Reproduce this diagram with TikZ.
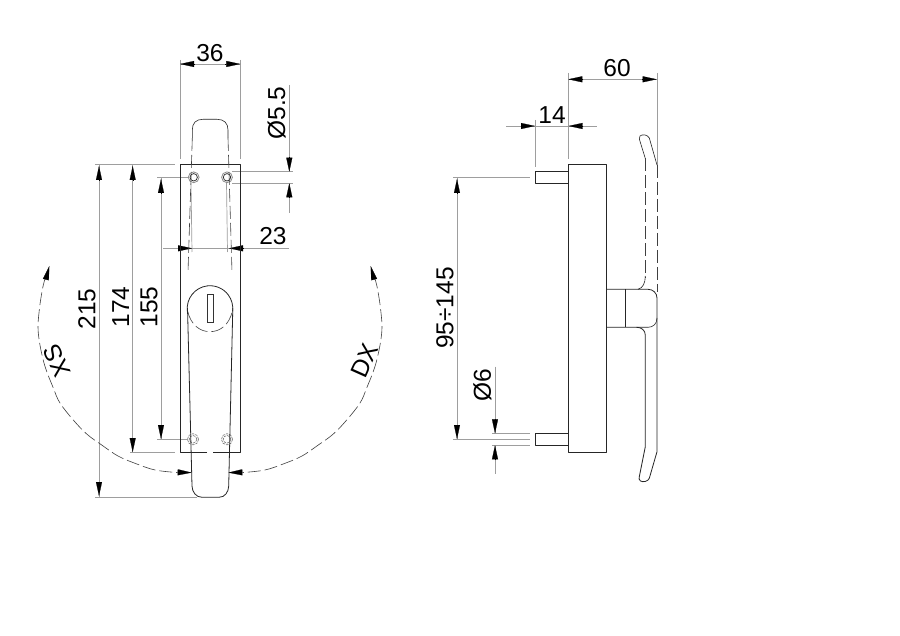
\documentclass[tikz,border=0pt]{standalone}
\usepackage{fontspec}
\setmainfont{Liberation Sans}
\usetikzlibrary{arrows.meta}
\tikzset{
  obj/.style={draw=black!85,line width=0.8pt,line join=round},
  hid/.style={draw=black!75,line width=0.6pt,dash pattern=on 13pt off 4pt},
  dimline/.style={draw=black!38,line width=0.7pt},
  tip/.style={draw=black,line width=0.2pt,-{Triangle[length=14pt,width=6pt,fill=black]}},
  lab/.style={font=\fontsize{24.5}{24.5}\selectfont,text=black,inner sep=0pt},
  swing/.style={draw=black!75,line width=0.6pt,dash pattern=on 13pt off 4pt}
}
\begin{document}
\begin{tikzpicture}[x=1pt,y=-1pt]
\useasboundingbox[fill=white] (0,0) rectangle (900,636);
% ---- front view: extension and dimension lines
\draw[dimline] (180,60) -- (180,159);
\draw[dimline] (240.3,60) -- (240.3,159);
\draw[dimline] (180,64) -- (240.3,64);
\draw[tip] (195,64) -- (180,64);
\draw[tip] (225,64) -- (240.3,64);
\draw[dimline] (95,164.3) -- (175,164.3);
\draw[dimline] (157,177.3) -- (188,177.3);
\draw[dimline] (130,452.3) -- (175,452.3);
\draw[dimline] (157,439.3) -- (188,439.3);
\draw[dimline] (95,497.3) -- (197,497.3);
\draw[dimline] (99,164.3) -- (99,497.3);
\draw[tip] (99,180) -- (99,166);
\draw[tip] (99,482) -- (99,496);
\draw[dimline] (132.7,164.3) -- (132.7,452.3);
\draw[tip] (132.7,180) -- (132.7,166);
\draw[tip] (132.7,438) -- (132.7,452);
\draw[dimline] (161,177.3) -- (161,439.3);
\draw[tip] (161,193) -- (161,179);
\draw[tip] (161,425) -- (161,439);
\draw[dimline] (232,171.7) -- (293,171.7);
\draw[dimline] (232,183.3) -- (293,183.3);
\draw[dimline] (289.3,85) -- (289.3,171.7);
\draw[dimline] (289.3,183.3) -- (289.3,213);
\draw[tip] (289.3,157) -- (289.3,171.7);
\draw[tip] (289.3,198) -- (289.3,183.3);
\draw[dimline] (163,248.3) -- (289,248.3);
\draw[dimline] (191,183) -- (192,252);
\draw[dimline] (226.5,183) -- (227.5,252);
\draw[tip] (178,248.3) -- (192,248.3);
\draw[tip] (243,248.3) -- (229,248.3);
% ---- front view: plate
\draw[obj] (207,452.3) -- (180,452.3) -- (180,164.3) -- (240.3,164.3) -- (240.3,452.3) -- (213,452.3);
% ---- holes
\foreach \hx in {193.7,227}{
  \draw[draw=black!45,line width=0.8pt] (\hx,177.3) circle[radius=5.4];
  \draw[draw=black!85,line width=0.7pt] (\hx,177.3) circle[radius=3.7];
}
\foreach \hx in {193,227}{
  \draw[draw=black!55,line width=0.6pt,dash pattern=on 2.5pt off 1pt] (\hx,439.3) circle[radius=5.6];
  \draw[draw=black!55,line width=0.6pt,dash pattern=on 2.5pt off 1pt] (\hx,439.3) circle[radius=3.8];
}
% ---- handle, hidden upper part
\draw[obj,line width=0.6pt] (192.3,138) -- (192.3,130) .. controls (192.3,123) and (196,119.3) .. (203,119.3) -- (217,119.3) .. controls (224,119.3) and (228,123) .. (228,130) -- (228,138);
\draw[hid] (192.3,138) -- (188,272);
\draw[hid] (228,138) -- (232,272);
% ---- rose, slot, handle lower part
\draw[obj] (187.37,311.3) arc[start angle=173,end angle=367,radius=22.8];
\draw[hid] (187.7,311.5) .. controls (191,325) and (200,331.7) .. (210,331.7) .. controls (220,331.7) and (229,325) .. (232.3,311.5);
\draw[draw=black!80,line width=0.7pt] (207.3,294) rectangle (213.3,322.7);
\draw[obj] (187.5,308) -- (192,486) .. controls (192.2,492) and (196,497.3) .. (202,497.3) -- (219,497.3) .. controls (225,497.3) and (228.5,492) .. (228.7,486) -- (232.8,308);
% ---- swing arcs
\draw[swing] plot[smooth,tension=0.6] coordinates {(46.5,276) (43.3,285) (39.3,310) (38.3,333) (44,363) (53.3,388) (60,403) (73.3,420) (86.7,434) (101.7,445) (118,456) (135,463.3) (155,470) (177,472.5)};
\draw[swing] plot[smooth,tension=0.6] coordinates {(373.5,276) (376.7,285) (380.7,310) (381.7,333) (376,363) (366.7,388) (360,403) (346.7,420) (333.3,434) (318.3,445) (302,456) (285,463.3) (265,470) (243,472.5)};
\draw[tip] (46,279) -- (49.3,266);
\draw[tip] (374,279) -- (370.7,266);
\draw[tip] (177,472.3) -- (191.7,472.6);
\draw[tip] (243,472.3) -- (228.3,472.6);
% ---- front view labels
\node[lab] (d36) at (210,53) {36};
\node[lab,rotate=90] (d55) at (276.7,113) {Ø5.5};
\node[lab] (d23) at (273,236.5) {23};
\node[lab,rotate=90] (d215) at (87,309) {215};
\node[lab,rotate=90] (d174) at (120.7,307) {174};
\node[lab,rotate=90] (d155) at (149,307) {155};
\node[lab,rotate=114] (xs) at (56.7,361) {XS};
\node[lab,rotate=66] (dx) at (365,361) {DX};
% ---- side view: dimensions
\draw[dimline] (568.3,73) -- (568.3,159);
\draw[dimline] (657,73) -- (657,165);
\draw[dimline] (568.3,79.3) -- (657,79.3);
\draw[tip] (583.3,79.3) -- (568.3,79.3);
\draw[tip] (642.3,79.3) -- (656.7,79.3);
\draw[dimline] (506,126) -- (596.7,126);
\draw[dimline] (535.3,120) -- (535.3,166.7);
\draw[tip] (520.7,126) -- (535,126);
\draw[tip] (583.3,126) -- (568.5,126);
\draw[dimline] (453.3,177.3) -- (530,177.3);
\draw[dimline] (453.3,439.3) -- (530,439.3);
\draw[dimline] (457,177.3) -- (457,439.3);
\draw[tip] (457,193) -- (457,179);
\draw[tip] (457,425) -- (457,439);
\draw[dimline] (492,433.3) -- (530,433.3);
\draw[dimline] (492,445.3) -- (530,445.3);
\draw[dimline] (495,366.7) -- (495,433.3);
\draw[dimline] (495,445.3) -- (495,474);
\draw[tip] (495,419) -- (495,433.3);
\draw[tip] (495,460) -- (495,445.3);
% ---- side view: plate and pins
\draw[obj] (568.3,164.3) rectangle (606.7,452.3);
\draw[obj] (568.3,171.7) -- (535.3,171.7) -- (535.3,183.3) -- (568.3,183.3);
\draw[obj] (568.3,433.3) -- (535.3,433.3) -- (535.3,445.3) -- (568.3,445.3);
% ---- side view: handle
\draw[obj,line width=0.6pt] (657,165) -- (649.3,138) .. controls (647.5,134.5) and (642,134) .. (640,136) .. controls (638.8,137) and (639,138) .. (639.3,139) -- (645.3,158.5);
\draw[hid] (645.3,158.5) -- (645.3,278);
\draw[hid] (657,165) -- (657,292);
\draw[obj,line width=0.6pt] (645.3,276) .. controls (645.3,283) and (643,288) .. (638,289.3);
\draw[obj] (606.7,289.3) -- (648,289.3) .. controls (653,289.3) and (657,293) .. (657,298) -- (657,451.7) -- (649.3,478.3) .. controls (648,481.5) and (643,482.5) .. (640.5,481) .. controls (638.8,480) and (638.8,478) .. (639.3,476.7) -- (645.3,446.7) -- (645.3,335) .. controls (645.3,330) and (641,327.3) .. (636.7,327.3) -- (606.7,327.3);
\draw[obj,line width=0.6pt] (636.7,327.3) -- (648,327.3) .. controls (653,327.3) and (657,324) .. (657,318);
\draw[obj] (625.7,289.3) -- (625.7,327.3);
% ---- side view labels
\node[lab] (d60) at (617,68) {60};
\node[lab] (d14) at (552,115) {14};
\node[lab,rotate=90] (d95) at (445,308) {95÷145};
\node[lab,rotate=90] (d6) at (482.3,385) {Ø6};
\end{tikzpicture}
\end{document}
